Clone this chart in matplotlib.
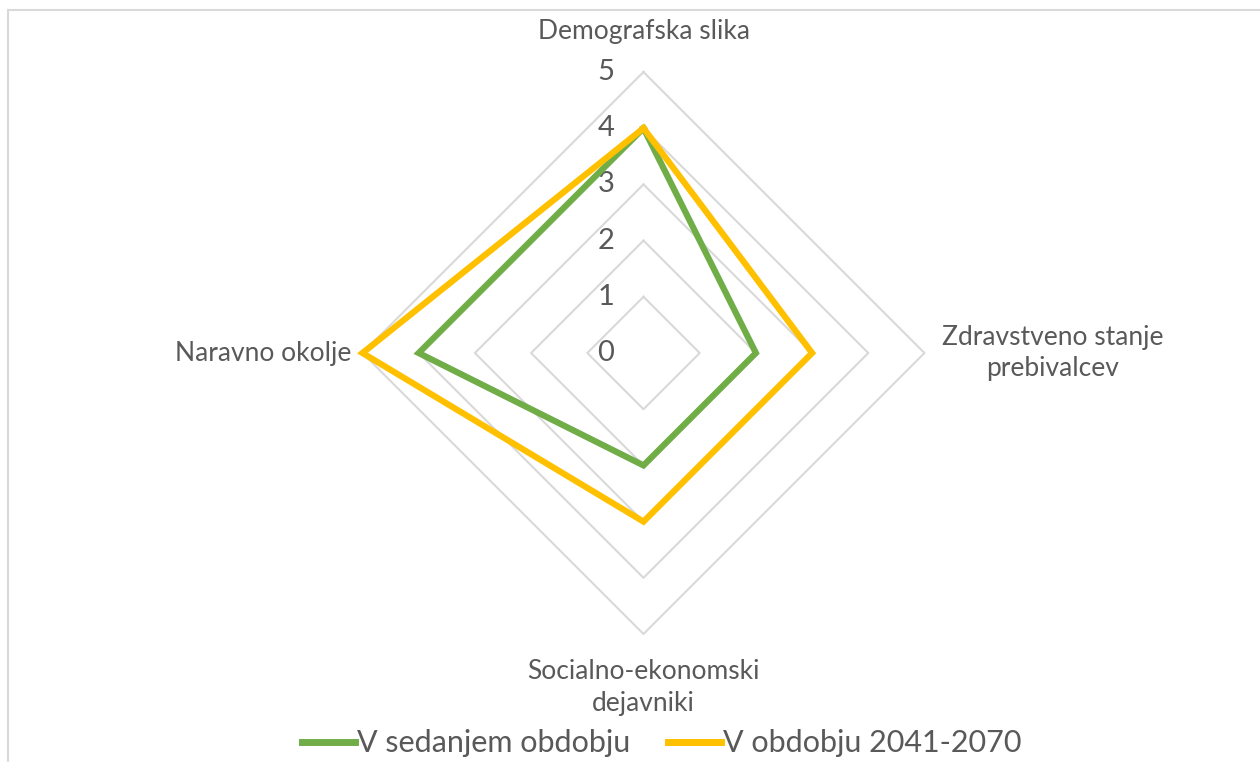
import numpy as np
import matplotlib
matplotlib.use("Agg")
import matplotlib.pyplot as plt

categories = ["Demografska slika", "Zdravstveno stanje\nprebivalcev",
              "Socialno-ekonomski\ndejavniki", "Naravno okolje"]
series_names = ["V sedanjem obdobju", "V obdobju 2041-2070"]
current = [4, 2, 2, 4]
future = [4, 3, 3, 5]
levels = [0, 1, 2, 3, 4, 5]

colors = ["#70AD47", "#FFC000"]
grid_color = "#D9D9D9"
text_color = "#595959"
FONT = "Lato"

W, H = 1260, 762
cx, cy = 643.5, 353.0
unit = 56.2

fig = plt.figure(figsize=(W / 100, H / 100), dpi=100)
ax = fig.add_axes([0, 0, 1, 1])
ax.set_xlim(-cx / unit, (W - cx) / unit)
ax.set_ylim(-(H - cy) / unit, cy / unit)
ax.axis("off")

n = len(categories)
angles = np.arange(n) * 2 * np.pi / n  # clockwise from top


def xy(vals):
    v = np.asarray(vals, dtype=float)
    x = v * np.sin(angles)
    y = v * np.cos(angles)
    return np.append(x, x[0]), np.append(y, y[0])


# grid
for lv in levels[1:]:
    gx, gy = xy([lv] * n)
    ax.plot(gx, gy, color=grid_color, lw=1.5, zorder=1)

# tick labels
for lv in levels:
    ax.text(-0.52, lv, str(lv), ha="right", va="center", fontsize=21,
            color=text_color, family=FONT, zorder=2)

# series
for vals, col, name in zip([current, future], colors, series_names):
    sx, sy = xy(vals)
    ax.plot(sx, sy, color=col, lw=4.5, solid_joinstyle="miter", label=name, zorder=3)

# category labels
cfs = 19
ax.text(0, 5.5, categories[0], ha="center", va="bottom", fontsize=cfs,
        color=text_color, family=FONT)
ax.text(7.28, 0, categories[1], ha="center", va="center", fontsize=cfs,
        color=text_color, family=FONT, multialignment="center", linespacing=1.3)
ax.text(0, -5.45, categories[2], ha="center", va="top", fontsize=cfs,
        color=text_color, family=FONT, multialignment="center", linespacing=1.35)
ax.text(-5.2, 0, categories[3], ha="right", va="center", fontsize=cfs,
        color=text_color, family=FONT)

leg = ax.legend(loc="lower center", bbox_to_anchor=(0.525, -0.03), ncol=2, frameon=False,
                prop={"family": FONT, "size": 22}, handlelength=1.75, handletextpad=0.05,
                columnspacing=1.25, labelcolor=text_color)
for h in leg.get_lines():
    h.set_linewidth(5)

# border
fig.add_artist(plt.Line2D([8 / W, 1], [1 - 10 / H, 1 - 10 / H], color=grid_color, lw=1.5,
                          transform=fig.transFigure))
fig.add_artist(plt.Line2D([8 / W, 8 / W], [0, 1 - 10 / H], color=grid_color, lw=1.5,
                          transform=fig.transFigure))

fig.savefig("out.png", dpi=100)
